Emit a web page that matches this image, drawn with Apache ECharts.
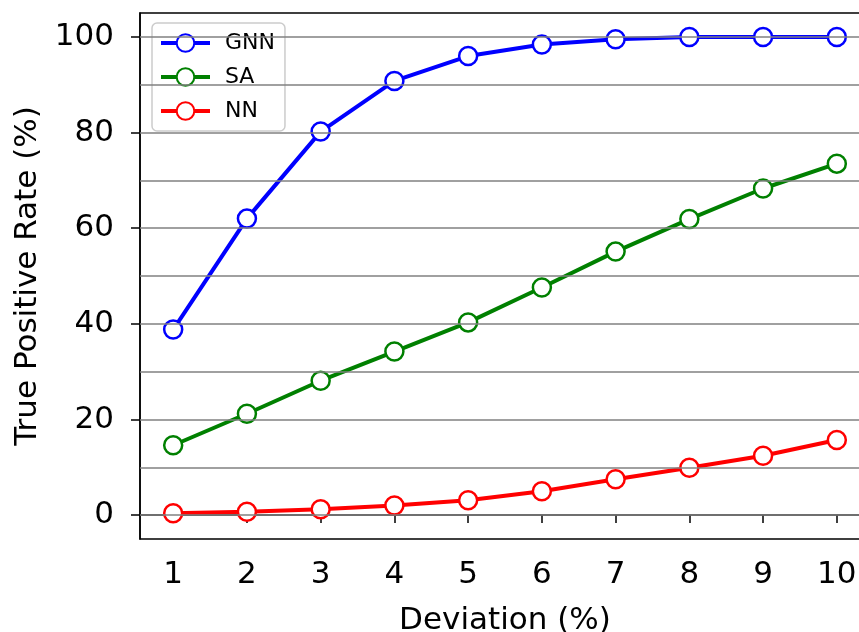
<!DOCTYPE html>
<html>
<head>
<meta charset="utf-8">
<script src="https://cdn.jsdelivr.net/npm/echarts@6/dist/echarts.min.js"></script>
<style>
html,body{margin:0;padding:0;background:#fff;overflow:hidden;}
#chart{width:880px;height:632px;}
</style>
</head>
<body>
<div id="chart"></div>
<script>
var deviation = [1, 2, 3, 4, 5, 6, 7, 8, 9, 10];
var gnn = [38.8, 62.0, 80.2, 90.8, 96.0, 98.4, 99.5, 100, 100, 100];
var sa  = [14.6, 21.2, 28.1, 34.2, 40.3, 47.6, 55.1, 61.9, 68.3, 73.5];
var nn  = [0.4, 0.7, 1.2, 2.0, 3.1, 5.0, 7.5, 9.9, 12.4, 15.7];
var xTicks = [1, 2, 3, 4, 5, 6, 7, 8, 9, 10];
var yTicks = [0, 20, 40, 60, 80, 100];
var gridValues = [0, 10, 20, 30, 40, 50, 60, 70, 80, 90, 100];
var seriesNames = ['GNN', 'SA', 'NN'];
var colors = ['#0000ff', '#008000', '#ff0000'];

var FONT = 'DejaVu Sans';
function pairs(arr){ return deviation.map(function(x,i){ return [x, arr[i]]; }); }
function mkSeries(name, arr, color){
  return {
    name: name, type: 'line', data: pairs(arr), z: 3,
    symbol: 'circle', symbolSize: 18,
    lineStyle: {color: color, width: 4},
    itemStyle: {color: '#ffffff', borderColor: color, borderWidth: 2.5},
    emphasis: {disabled: true}
  };
}
var chart = echarts.init(document.getElementById('chart'), null, {renderer: 'canvas'});
chart.setOption({
  animation: false,
  backgroundColor: '#ffffff',
  textStyle: {fontFamily: FONT},
  grid: {left: 140, top: 13, width: 730, height: 526, show: true, borderColor: '#000', borderWidth: 1.5,
         backgroundColor: 'transparent', containLabel: false, outerBoundsMode: 'none'},
  legend: {
    data: seriesNames, orient: 'vertical', left: 152, top: 23,
    itemWidth: 49, itemHeight: 22, itemGap: 12,
    lineStyle: {width: 4},
    textStyle: {fontSize: 22, fontFamily: FONT, color: '#000', padding: [0,0,0,10]},
    backgroundColor: '#fff', borderColor: '#cccccc', borderWidth: 1.5, borderRadius: 5,
    padding: [9, 10, 9, 7]
  },
  xAxis: {
    type: 'value', min: 0.55, max: 10.45,
    name: 'Deviation (%)', nameLocation: 'middle', nameGap: 66,
    nameTextStyle: {fontSize: 31, fontFamily: FONT, color: '#000'},
    axisLine: {show: true, lineStyle: {color: '#000', width: 1.5}},
    axisTick: {show: true, inside: false, length: 8, lineStyle: {color: '#000', width: 1.5}, customValues: xTicks},
    axisLabel: {fontSize: 31, fontFamily: FONT, color: '#000', margin: 20, customValues: xTicks},
    splitLine: {show: false}
  },
  yAxis: {
    type: 'value', min: -5, max: 105,
    name: 'True Positive Rate (%)', nameLocation: 'middle', nameGap: 97,
    nameTextStyle: {fontSize: 31, fontFamily: FONT, color: '#000'},
    axisLine: {show: true, lineStyle: {color: '#000', width: 1.5}},
    axisTick: {show: true, inside: false, length: 9, lineStyle: {color: '#000', width: 1.5}, customValues: yTicks},
    axisLabel: {fontSize: 31, fontFamily: FONT, color: '#000', margin: 26, customValues: yTicks},
    splitLine: {show: false}
  },
  series: [
    {
      name: 'grid', type: 'line', data: [], z: 1, silent: true,
      markLine: {
        silent: true, symbol: ['none', 'none'], label: {show: false},
        lineStyle: {color: '#808080', width: 1.5, type: 'solid'},
        emphasis: {disabled: true},
        data: gridValues.map(function(v){ return {yAxis: v}; })
      }
    },
    mkSeries(seriesNames[0], gnn, colors[0]),
    mkSeries(seriesNames[1], sa, colors[1]),
    mkSeries(seriesNames[2], nn, colors[2])
  ]
});
</script>
</body>
</html>
